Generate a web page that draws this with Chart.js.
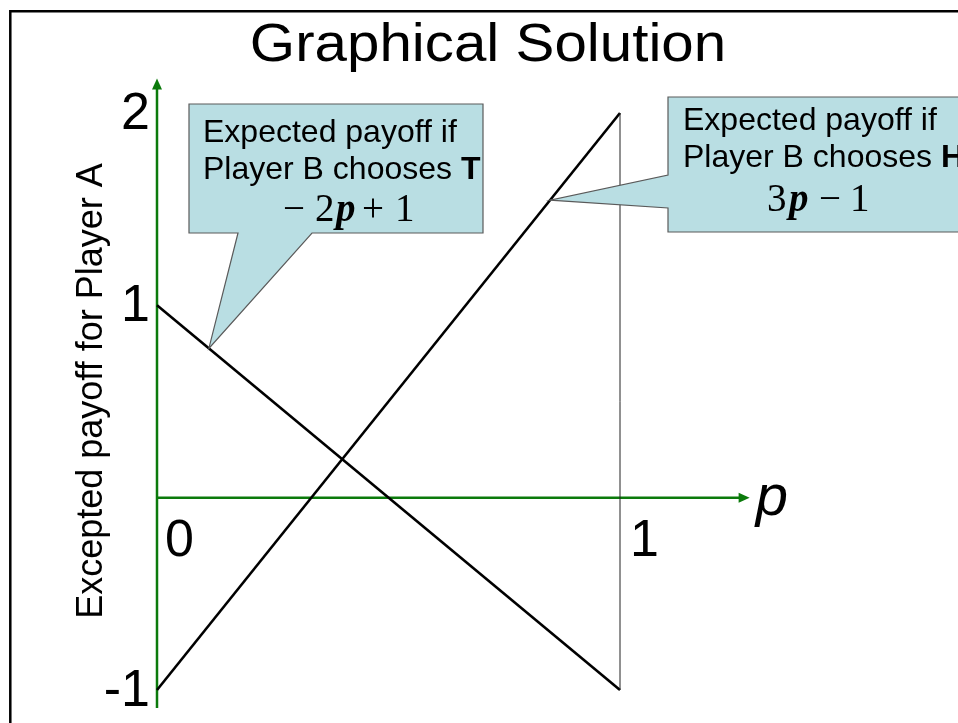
<!DOCTYPE html>
<html>
<head>
<meta charset="utf-8">
<script src="https://cdn.jsdelivr.net/npm/chart.js@4"></script>
<style>
  html, body { margin: 0; padding: 0; background: #fff; }
  canvas { display: block; }
</style>
</head>
<body>
<canvas id="c" width="958" height="723"></canvas>
<script>
// ---- data ----
const pValues = [0, 1];                 // probability p
const payoffIfT = [1, -1];              // -2p + 1
const payoffIfH = [-1, 2];              // 3p - 1
const boundaryP = [1, 1];               // vertical line at p = 1
const boundaryY = [-1, 2];
const yTickValues = [2, 1, -1];
const yTickLabels = ['2', '1', '-1'];
const xTickValues = [0, 1];
const xTickLabels = ['0', '1'];
const calloutAnchorP = [0.112, 0.849];  // where the callout pointers touch the lines

const titleText = 'Graphical Solution';
const yTitleText = 'Excepted payoff for Player A';
const xTitleText = 'p';

const pts = (xs, ys) => xs.map((x, i) => ({ x: x, y: ys[i] }));
const lineAt = (ys, p) => ys[0] + (ys[1] - ys[0]) * (p - pValues[0]) / (pValues[1] - pValues[0]);

const GREEN = '#0b7a0b';
const SANS = '"Liberation Sans", Arial, Helvetica, sans-serif';
const SERIF = '"Liberation Serif", "Times New Roman", serif';

function txt(ctx, s, x, y, font, align, sx) {
  ctx.save();
  ctx.font = font;
  ctx.textAlign = align || 'left';
  ctx.textBaseline = 'alphabetic';
  ctx.fillStyle = '#000';
  ctx.translate(x, y);
  ctx.scale(sx || 1, 1);
  ctx.fillText(s, 0, 0);
  ctx.restore();
}

function arrowHead(ctx, x, y, dir) {
  ctx.beginPath();
  if (dir === 'up') {
    ctx.moveTo(x, y); ctx.lineTo(x - 5, y + 11); ctx.lineTo(x + 5, y + 11);
  } else {
    ctx.moveTo(x, y); ctx.lineTo(x - 11, y - 5); ctx.lineTo(x - 11, y + 5);
  }
  ctx.closePath();
  ctx.fill();
}

const decor = {
  id: 'decor',
  beforeDatasetsDraw(chart) {
    const ctx = chart.ctx;
    const xs = chart.scales.x, ys = chart.scales.y;
    // slide frame
    ctx.save();
    ctx.strokeStyle = '#000';
    ctx.lineWidth = 2.5;
    ctx.beginPath();
    ctx.moveTo(10.3, 723); ctx.lineTo(10.3, 11.2); ctx.lineTo(958, 11.2);
    ctx.stroke();
    ctx.restore();

    // green axes
    const x0 = xs.getPixelForValue(0), y0 = ys.getPixelForValue(0);
    const yBot = ys.getPixelForValue(-1.094), yTop = ys.getPixelForValue(2.18);
    const xEnd = xs.getPixelForValue(1.28);
    ctx.save();
    ctx.strokeStyle = GREEN; ctx.fillStyle = GREEN; ctx.lineWidth = 2.5;
    ctx.beginPath(); ctx.moveTo(x0, yBot); ctx.lineTo(x0, yTop + 6); ctx.stroke();
    arrowHead(ctx, x0, yTop, 'up');
    ctx.beginPath(); ctx.moveTo(x0, y0); ctx.lineTo(xEnd - 6, y0); ctx.stroke();
    arrowHead(ctx, xEnd, y0, 'right');
    ctx.restore();

    // title
    txt(ctx, titleText, 488, 61, '53px ' + SANS, 'center', 1.1);

    // y title
    ctx.save();
    ctx.translate(92, 391);
    ctx.rotate(-Math.PI / 2);
    ctx.font = '36px ' + SANS;
    ctx.textAlign = 'center';
    ctx.textBaseline = 'middle';
    ctx.fillStyle = '#000';
    ctx.fillText(yTitleText, 0, 0);
    ctx.restore();

    // y tick labels
    yTickValues.forEach((v, i) => {
      txt(ctx, yTickLabels[i], x0 - 7, ys.getPixelForValue(v) + 16, '52px ' + SANS, 'right', 1);
    });
    // x tick labels
    xTickValues.forEach((v, i) => {
      txt(ctx, xTickLabels[i], xs.getPixelForValue(v) + 8 + (v === 1 ? 2 : 0), y0 + 58, '52px ' + SANS, 'left', 1);
    });
    // axis label p
    txt(ctx, xTitleText, xEnd + 6, y0 + 17, 'italic 58px ' + SANS, 'left', 1);
  },
  afterDatasetsDraw(chart) {
    const ctx = chart.ctx;
    const xs = chart.scales.x, ys = chart.scales.y;
    const fill = '#b9dee3', border = '#5a5a5a';

    function callout(poly) {
      ctx.save();
      ctx.beginPath();
      poly.forEach((p, i) => i ? ctx.lineTo(p[0], p[1]) : ctx.moveTo(p[0], p[1]));
      ctx.closePath();
      ctx.fillStyle = fill; ctx.fill();
      ctx.strokeStyle = border; ctx.lineWidth = 1.2; ctx.stroke();
      ctx.restore();
    }

    // callout 1 (T)
    const t1x = xs.getPixelForValue(calloutAnchorP[0]);
    const t1y = ys.getPixelForValue(lineAt(payoffIfT, calloutAnchorP[0]));
    callout([[189, 104], [483, 104], [483, 233], [312, 233], [t1x, t1y], [238, 233], [189, 233]]);
    txt(ctx, 'Expected payoff if', 203, 142, '32px ' + SANS, 'left', 1);
    txt(ctx, 'Player B chooses ', 203, 179, '32px ' + SANS, 'left', 1);
    ctx.save(); ctx.font = '32px ' + SANS; const w1 = ctx.measureText('Player B chooses ').width; ctx.restore();
    txt(ctx, 'T', 203 + w1, 179, 'bold 32px ' + SANS, 'left', 1);
    txt(ctx, '\u2212', 283, 221, '39px ' + SERIF, 'left', 1);
    txt(ctx, '2', 315, 221, '39px ' + SERIF, 'left', 1);
    txt(ctx, 'p', 336, 221, 'italic bold 39px ' + SERIF, 'left', 1);
    txt(ctx, '+', 362, 221, '39px ' + SERIF, 'left', 1);
    txt(ctx, '1', 395, 221, '39px ' + SERIF, 'left', 1);

    // callout 2 (H)
    const t2x = xs.getPixelForValue(calloutAnchorP[1]);
    const t2y = ys.getPixelForValue(lineAt(payoffIfH, calloutAnchorP[1]));
    callout([[668, 97], [990, 97], [990, 232], [668, 232], [668, 208], [t2x, t2y], [668, 175]]);
    txt(ctx, 'Expected payoff if', 683, 130, '32px ' + SANS, 'left', 1);
    txt(ctx, 'Player B chooses ', 683, 167, '32px ' + SANS, 'left', 1);
    txt(ctx, 'H', 683 + w1, 167, 'bold 32px ' + SANS, 'left', 1);
    txt(ctx, '3', 767, 211, '39px ' + SERIF, 'left', 1);
    txt(ctx, 'p', 789, 211, 'italic bold 39px ' + SERIF, 'left', 1);
    txt(ctx, '\u2212', 819, 211, '39px ' + SERIF, 'left', 1);
    txt(ctx, '1', 850, 211, '39px ' + SERIF, 'left', 1);
  }
};

new Chart(document.getElementById('c'), {
  type: 'scatter',
  data: {
    datasets: [
      { data: pts(boundaryP, boundaryY), showLine: true, borderColor: '#222', borderWidth: 1, pointRadius: 0 },
      { data: pts(pValues, payoffIfT), showLine: true, borderColor: '#000', borderWidth: 2.6, pointRadius: 0 },
      { data: pts(pValues, payoffIfH), showLine: true, borderColor: '#000', borderWidth: 2.6, pointRadius: 0 }
    ]
  },
  options: {
    responsive: false,
    devicePixelRatio: 1,
    animation: false,
    events: [],
    layout: { padding: 0 },
    plugins: { legend: { display: false }, tooltip: { enabled: false }, title: { display: false } },
    scales: {
      x: { type: 'linear', display: false, min: -157 / 463, max: 801 / 463 },
      y: { type: 'linear', display: false, min: -(723 - 497.667) / 192.333, max: 497.667 / 192.333 }
    }
  },
  plugins: [decor]
});
</script>
</body>
</html>
